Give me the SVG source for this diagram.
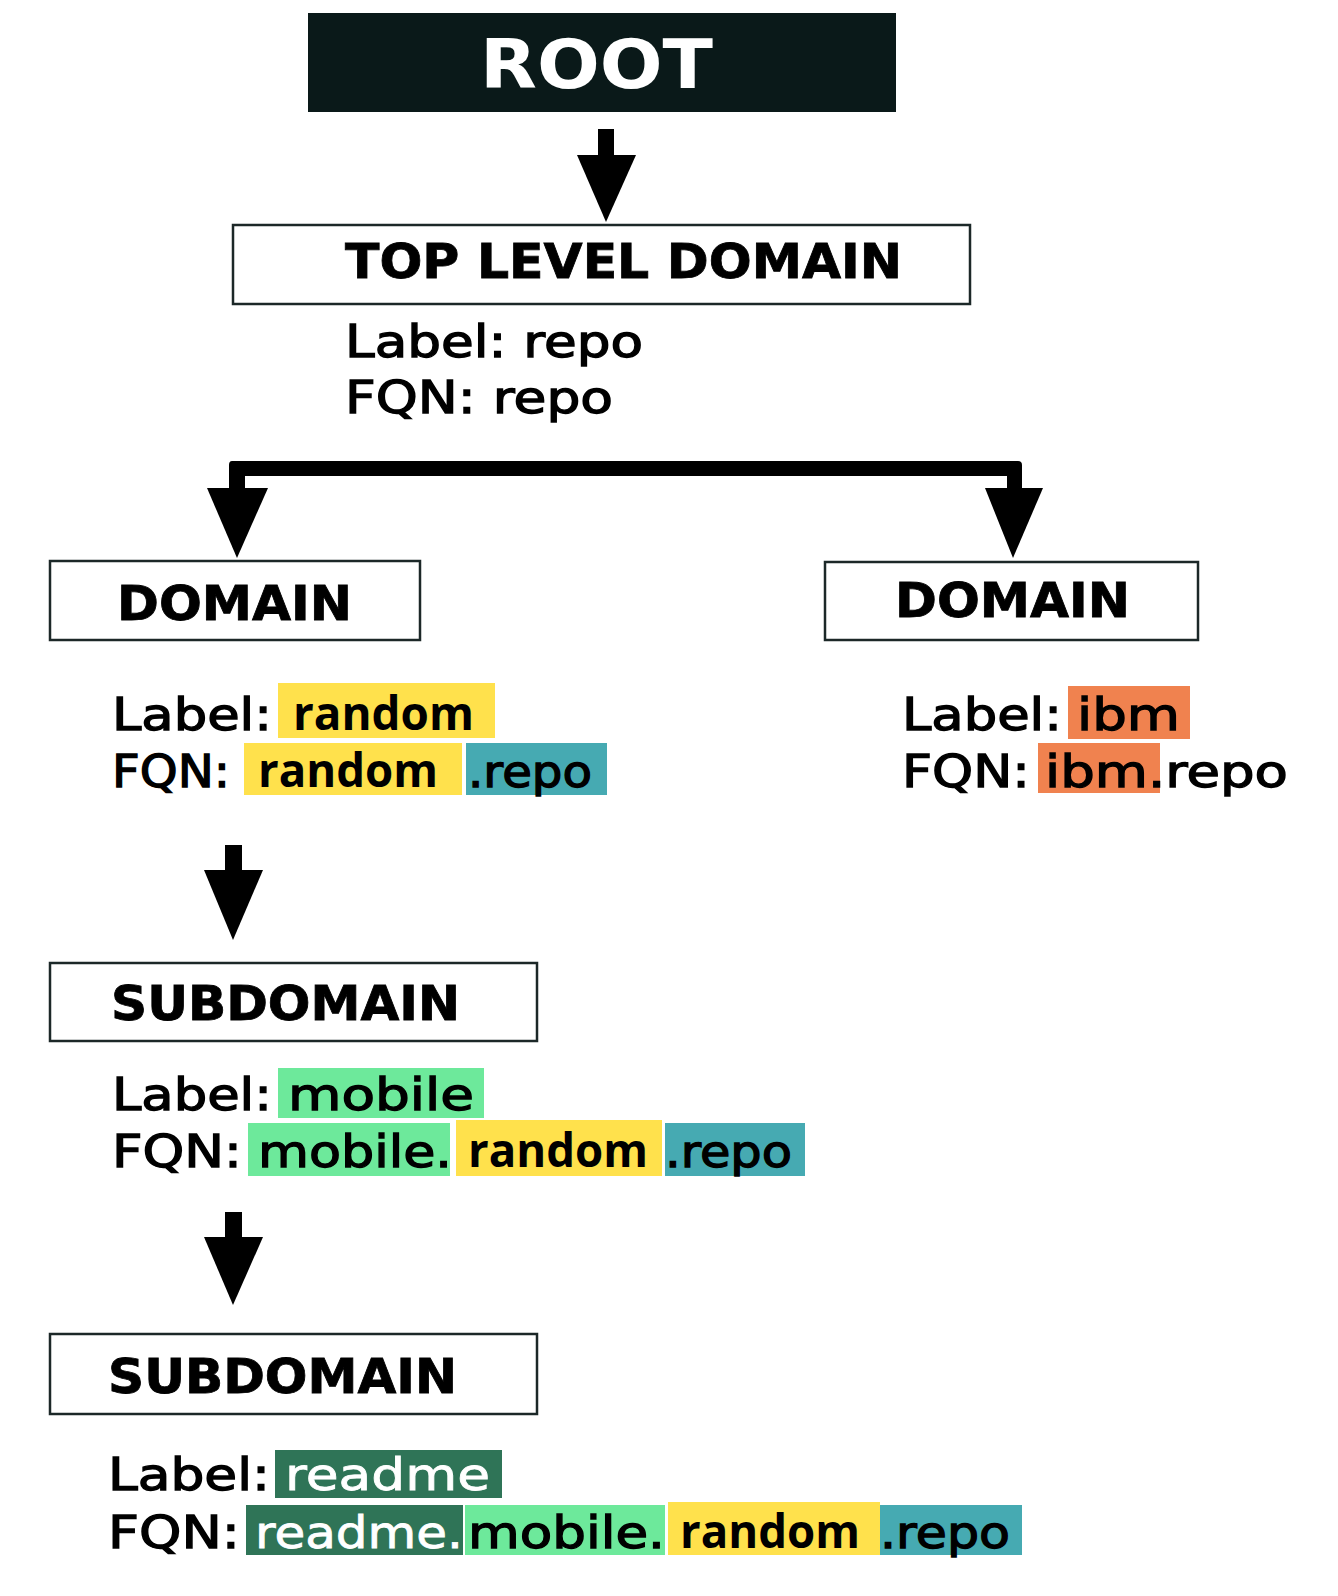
<svg xmlns="http://www.w3.org/2000/svg" width="1338" height="1596" viewBox="0 0 1338 1596">
<style>
.box{fill:#fff;stroke:#1c2828;stroke-width:2.5}
.hd{font-family:"DejaVu Sans","Liberation Sans",sans-serif;font-weight:bold;font-size:48px;fill:#000;stroke:#000;stroke-width:0.8}
.lb{font-family:"DejaVu Sans","Liberation Sans",sans-serif;font-size:45px;fill:#000;stroke:#000;stroke-width:1.3}
.cb{font-family:"Open Sans","Liberation Sans",sans-serif;font-weight:bold;font-size:47px;fill:#000}
.wt{fill:#fff;stroke:#fff;stroke-width:0.8}
.yel{fill:#FFE14C}.teal{fill:#46AAB2}.org{fill:#F0824F}.lg{fill:#6DE99B}.dg{fill:#2F7457}
.arr{fill:#000}
</style>
<rect width="1338" height="1596" fill="#fff"/>
<g id="connectors">
<rect class="arr" x="598" y="129" width="16" height="30"/>
<polygon class="arr" points="577,155 636,155 606,222"/>
<path class="arr" d="M232,461 H1018 Q1022,461 1022,465 V492 H1007 V476 H245 V492 H229 V465 Q229,461 232,461 Z"/>
<polygon class="arr" points="207,488 268,488 237,558"/>
<polygon class="arr" points="985,488 1043,488 1013,558"/>
<rect class="arr" x="225" y="845" width="17" height="28"/>
<polygon class="arr" points="204,870 263,870 233,940"/>
<rect class="arr" x="225" y="1212" width="17" height="28"/>
<polygon class="arr" points="204,1237 263,1237 233,1305"/>
</g>
<g id="root">
<rect x="308" y="13" width="588" height="99" fill="#0A1919"/>
<text x="480" y="88" font-family="DejaVu Sans,Liberation Sans,sans-serif" font-weight="bold" font-size="68" fill="#fff" textLength="233" lengthAdjust="spacingAndGlyphs">ROOT</text>
</g>
<g id="tld">
<rect class="box" x="233" y="225" width="737" height="79"/>
<text class="hd" x="345" y="278" textLength="557" lengthAdjust="spacingAndGlyphs">TOP LEVEL DOMAIN</text>
<text class="lb" x="345" y="357" textLength="298" lengthAdjust="spacingAndGlyphs">Label: repo</text>
<text class="lb" x="345" y="413" textLength="268" lengthAdjust="spacingAndGlyphs">FQN: repo</text>
</g>
<g id="domain-random">
<rect class="box" x="50" y="561" width="370" height="79"/>
<text class="hd" x="117" y="620" textLength="235" lengthAdjust="spacingAndGlyphs">DOMAIN</text>
<rect class="yel" x="278" y="683" width="217" height="55"/>
<rect class="yel" x="244" y="743" width="218" height="52"/>
<rect class="teal" x="466" y="743" width="141" height="52"/>
<text class="lb" x="112" y="730" textLength="160" lengthAdjust="spacingAndGlyphs">Label:</text>
<text class="cb" x="293" y="730" textLength="181" lengthAdjust="spacingAndGlyphs">random</text>
<text class="lb" x="112" y="787" textLength="118" lengthAdjust="spacingAndGlyphs">FQN:</text>
<text class="cb" x="258" y="787" textLength="180" lengthAdjust="spacingAndGlyphs">random</text>
<text class="lb" x="468" y="787" textLength="124" lengthAdjust="spacingAndGlyphs">.repo</text>
</g>
<g id="domain-ibm">
<rect class="box" x="825" y="562" width="373" height="78"/>
<text class="hd" x="895" y="617" textLength="235" lengthAdjust="spacingAndGlyphs">DOMAIN</text>
<rect class="org" x="1068" y="686" width="122" height="53"/>
<rect class="org" x="1038" y="743" width="122" height="50"/>
<text class="lb" x="902" y="730" textLength="160" lengthAdjust="spacingAndGlyphs">Label:</text>
<text class="lb" x="1077" y="730" textLength="103" lengthAdjust="spacingAndGlyphs">ibm</text>
<text class="lb" x="902" y="787" textLength="128" lengthAdjust="spacingAndGlyphs">FQN:</text>
<text class="lb" x="1045" y="787" textLength="243" lengthAdjust="spacingAndGlyphs">ibm.repo</text>
</g>
<g id="subdomain-mobile">
<rect class="box" x="50" y="963" width="487" height="78"/>
<text class="hd" x="111" y="1020" textLength="349" lengthAdjust="spacingAndGlyphs">SUBDOMAIN</text>
<rect class="lg" x="278" y="1068" width="206" height="50"/>
<rect class="lg" x="248" y="1123" width="202" height="53"/>
<rect class="yel" x="456" y="1120" width="206" height="56"/>
<rect class="teal" x="665" y="1123" width="140" height="53"/>
<text class="lb" x="112" y="1110" textLength="160" lengthAdjust="spacingAndGlyphs">Label:</text>
<text class="lb" x="288" y="1110" textLength="186" lengthAdjust="spacingAndGlyphs">mobile</text>
<text class="lb" x="112" y="1167" textLength="130" lengthAdjust="spacingAndGlyphs">FQN:</text>
<text class="lb" x="258" y="1167" textLength="194" lengthAdjust="spacingAndGlyphs">mobile.</text>
<text class="cb" x="468" y="1167" textLength="180" lengthAdjust="spacingAndGlyphs">random</text>
<text class="lb" x="665" y="1167" textLength="127" lengthAdjust="spacingAndGlyphs">.repo</text>
</g>
<g id="subdomain-readme">
<rect class="box" x="50" y="1334" width="487" height="80"/>
<text class="hd" x="108" y="1393" textLength="349" lengthAdjust="spacingAndGlyphs">SUBDOMAIN</text>
<rect class="dg" x="275" y="1450" width="227" height="48"/>
<rect class="dg" x="246" y="1505" width="217" height="50"/>
<rect class="lg" x="465" y="1505" width="200" height="50"/>
<rect class="yel" x="668" y="1502" width="212" height="53"/>
<rect class="teal" x="880" y="1505" width="142" height="50"/>
<text class="lb" x="108" y="1490" textLength="162" lengthAdjust="spacingAndGlyphs">Label:</text>
<text class="lb wt" x="285" y="1490" textLength="205" lengthAdjust="spacingAndGlyphs">readme</text>
<text class="lb" x="108" y="1548" textLength="132" lengthAdjust="spacingAndGlyphs">FQN:</text>
<text class="lb wt" x="255" y="1548" textLength="208" lengthAdjust="spacingAndGlyphs">readme.</text>
<text class="lb" x="468" y="1548" textLength="197" lengthAdjust="spacingAndGlyphs">mobile.</text>
<text class="cb" x="680" y="1548" textLength="180" lengthAdjust="spacingAndGlyphs">random</text>
<text class="lb" x="880" y="1548" textLength="130" lengthAdjust="spacingAndGlyphs">.repo</text>
</g>
</svg>
